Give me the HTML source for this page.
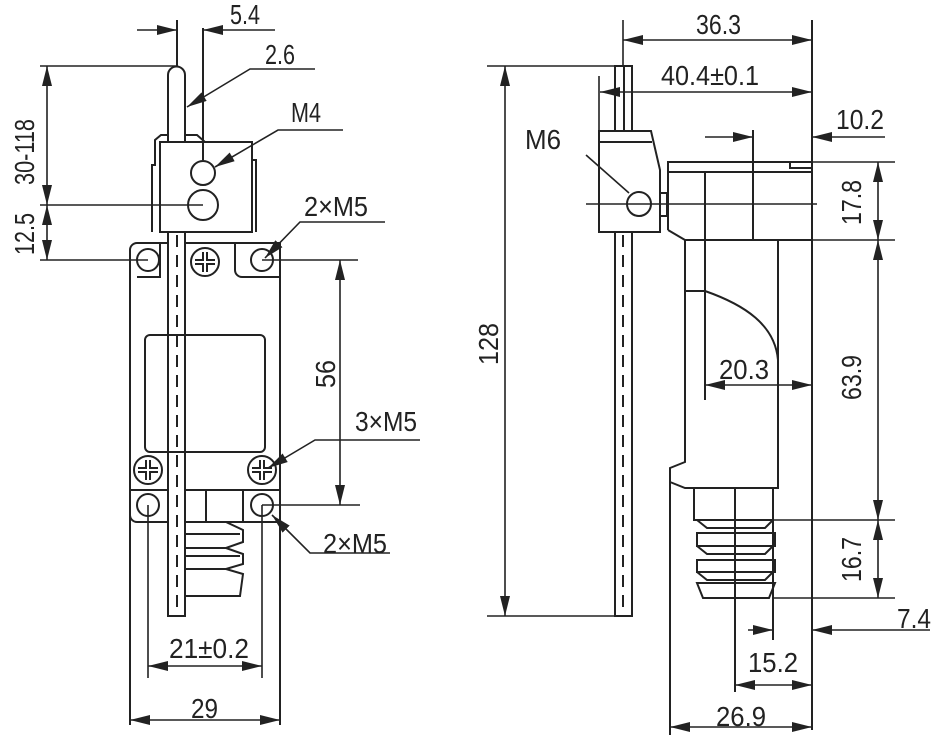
<!DOCTYPE html>
<html><head><meta charset="utf-8"><style>html,body{margin:0;padding:0;background:#fff}svg{display:block}</style></head><body>
<svg width="947" height="746" viewBox="0 0 947 746" xmlns="http://www.w3.org/2000/svg">
<defs>
<marker id="a" viewBox="0 0 20 10" refX="20" refY="5" markerWidth="20" markerHeight="10" markerUnits="userSpaceOnUse" orient="auto-start-reverse"><path d="M0,0L20,5L0,10z" fill="#222"/></marker>
</defs>
<g fill="none" stroke="#222" stroke-width="2">
<!-- LEFT VIEW -->
<path d="M168,616V75a8,8 0 0 1 17,0V616z" fill="#fff"/>
<line x1="177" y1="235" x2="177" y2="614" stroke-dasharray="12,8"/>
<path d="M152,232V165h3V140l6,-5h6M185,135h12l8,7M252,160h4V232"/>
<rect x="160" y="142" width="92" height="90" fill="#fff"/>
<circle cx="203" cy="173" r="12"/><circle cx="203" cy="205" r="15"/>
<line x1="203" y1="28" x2="203" y2="160"/>
<line x1="177" y1="20" x2="177" y2="66"/>
<!-- body -->
<path d="M130,250a7,7 0 0 1 7,-7H168M185,243H235V270a7,7 0 0 0 7,7H280V243H236"/>
<path d="M160,243V277H137M168,243V277"/>
<line x1="130" y1="250" x2="130" y2="725"/><line x1="280" y1="243" x2="280" y2="725"/>
<circle cx="148" cy="260" r="11"/><circle cx="262" cy="260" r="11"/>
<rect x="145" y="335" width="120" height="117" rx="5"/>
<path d="M130,490H168M185,490H280M130,515a7,7 0 0 0 7,7H168M185,522H280M206,490V522M243,490V522"/>
<circle cx="148" cy="505" r="11"/><circle cx="262" cy="505" r="11"/>
<path d="M186,522H226l17,8v12l-17,6H186M226,548l17,6v10l-17,5H186M186,534H240M186,556H240M226,569l17,5-3,22H186"/>
</g>
<g stroke="#222" stroke-width="2" fill="#fff">
<circle cx="205" cy="262" r="14"/><circle cx="148" cy="470" r="14"/><circle cx="262" cy="470" r="14"/>
</g>
<g stroke="#222" stroke-width="6">
<path d="M205,252v20M195,262h20M148,460v20M138,470h20M262,460v20M252,470h20"/>
</g>
<g stroke="#fff" stroke-width="2"><path d="M205,252v20M195,262h20M148,460v20M138,470h20M262,460v20M252,470h20"/></g>
<g fill="none" stroke="#222" stroke-width="1.6">
<line x1="137" y1="30" x2="177" y2="30" marker-end="url(#a)"/>
<line x1="275" y1="30" x2="203" y2="30" marker-end="url(#a)"/>
<path d="M315,69H250L187,107" marker-end="url(#a)"/>
<path d="M343,130H278L215,167" marker-end="url(#a)"/>
<path d="M385,222H300L265,258" marker-end="url(#a)"/>
<path d="M420,440H315L268,468" marker-end="url(#a)"/>
<path d="M390,553H310L272,515" marker-end="url(#a)"/>
<path d="M40,66H176M40,205H203M40,260H148"/>
<line x1="47" y1="135" x2="47" y2="66" marker-end="url(#a)"/>
<line x1="47" y1="135" x2="47" y2="205" marker-end="url(#a)"/>
<line x1="47" y1="232" x2="47" y2="205" marker-end="url(#a)"/>
<line x1="47" y1="232" x2="47" y2="260" marker-end="url(#a)"/>
<path d="M262,260H358M262,505H360M148,505V678M262,505V678"/>
<line x1="340" y1="380" x2="340" y2="260" marker-end="url(#a)"/>
<line x1="340" y1="380" x2="340" y2="505" marker-end="url(#a)"/>
<line x1="205" y1="666" x2="148" y2="666" marker-end="url(#a)"/>
<line x1="205" y1="666" x2="262" y2="666" marker-end="url(#a)"/>
<line x1="205" y1="720" x2="130" y2="720" marker-end="url(#a)"/>
<line x1="205" y1="720" x2="280" y2="720" marker-end="url(#a)"/>
</g>
<g fill="none" stroke="#222" stroke-width="2">
<!-- RIGHT VIEW -->
<path d="M615,616V66H632V616z"/>
<line x1="624" y1="66" x2="624" y2="131"/>
<line x1="623" y1="235" x2="623" y2="614" stroke-dasharray="12,8"/>
<path d="M599,131H651L660,170V232H599z" fill="#fff"/>
<line x1="599" y1="142" x2="652" y2="142"/>
<circle cx="639" cy="204" r="12"/>
<rect x="660" y="193" width="7" height="23"/>
<path d="M668,230V162H812M668,172H812M790,162V168H812M668,230L685,240H812M705,172V400M753,130V240"/>
<path d="M685,240V462L670,468V482L685,488H778V240M685,291H705C745,305 775,325 778,360"/>
<path d="M694,488V520H773V488M697,520h76M697,520l10,8h58l8,-8M697,533H775V546H697zM697,546l10,8h58l8,-8M697,560H775V572H697zM697,572l10,8h58l8,-8M697,583H775l-6,15H703z"/>
<line x1="735" y1="488" x2="735" y2="692"/>
<line x1="773" y1="520" x2="773" y2="640"/>
<line x1="812" y1="20" x2="812" y2="730"/>
<line x1="670" y1="482" x2="670" y2="735"/>
</g>
<g fill="none" stroke="#222" stroke-width="1.6">
<line x1="586" y1="204" x2="817" y2="204"/>
<line x1="623" y1="20" x2="623" y2="66"/>
<line x1="599" y1="76" x2="599" y2="131"/>
<line x1="718" y1="40" x2="623" y2="40" marker-end="url(#a)"/>
<line x1="718" y1="40" x2="812" y2="40" marker-end="url(#a)"/>
<line x1="700" y1="92" x2="600" y2="92" marker-end="url(#a)"/>
<line x1="700" y1="92" x2="812" y2="92" marker-end="url(#a)"/>
<line x1="705" y1="137" x2="753" y2="137" marker-end="url(#a)"/>
<line x1="885" y1="137" x2="812" y2="137" marker-end="url(#a)"/>
<path d="M812,162H895M812,240H895M773,520H895M773,598H895"/>
<line x1="878" y1="200" x2="878" y2="162" marker-end="url(#a)"/>
<line x1="878" y1="200" x2="878" y2="240" marker-end="url(#a)"/>
<line x1="878" y1="380" x2="878" y2="240" marker-end="url(#a)"/>
<line x1="878" y1="380" x2="878" y2="520" marker-end="url(#a)"/>
<line x1="878" y1="560" x2="878" y2="520" marker-end="url(#a)"/>
<line x1="878" y1="560" x2="878" y2="598" marker-end="url(#a)"/>
<line x1="748" y1="630" x2="773" y2="630" marker-end="url(#a)"/>
<line x1="930" y1="630" x2="812" y2="630" marker-end="url(#a)"/>
<line x1="773" y1="685" x2="735" y2="685" marker-end="url(#a)"/>
<line x1="773" y1="685" x2="812" y2="685" marker-end="url(#a)"/>
<line x1="740" y1="727" x2="670" y2="727" marker-end="url(#a)"/>
<line x1="740" y1="727" x2="812" y2="727" marker-end="url(#a)"/>
<line x1="760" y1="385" x2="705" y2="385" marker-end="url(#a)"/>
<line x1="760" y1="385" x2="812" y2="385" marker-end="url(#a)"/>
<path d="M487,66H615M487,616H615"/>
<line x1="505" y1="340" x2="505" y2="66" marker-end="url(#a)"/>
<line x1="505" y1="340" x2="505" y2="616" marker-end="url(#a)"/>
<path d="M586,155L629,193"/>
</g>
<g font-family="Liberation Sans, sans-serif" font-size="28" fill="#222">
<text x="230" y="24" textLength="30" lengthAdjust="spacingAndGlyphs">5.4</text>
<text x="265" y="64" textLength="30" lengthAdjust="spacingAndGlyphs">2.6</text>
<text x="291" y="122" textLength="30" lengthAdjust="spacingAndGlyphs">M4</text>
<text x="304" y="216" textLength="64" lengthAdjust="spacingAndGlyphs">2×M5</text>
<text x="355" y="431" textLength="62" lengthAdjust="spacingAndGlyphs">3×M5</text>
<text x="323" y="553" textLength="64" lengthAdjust="spacingAndGlyphs">2×M5</text>
<text x="169" y="658" textLength="80" lengthAdjust="spacingAndGlyphs">21±0.2</text>
<text x="191" y="718" textLength="27" lengthAdjust="spacingAndGlyphs">29</text>
<text transform="translate(34,185) rotate(-90)" textLength="66" lengthAdjust="spacingAndGlyphs">30-118</text>
<text transform="translate(34,255) rotate(-90)" textLength="42" lengthAdjust="spacingAndGlyphs">12.5</text>
<text transform="translate(335,388) rotate(-90)" textLength="28" lengthAdjust="spacingAndGlyphs">56</text>
<text transform="translate(498,365) rotate(-90)" textLength="42" lengthAdjust="spacingAndGlyphs">128</text>
<text x="525" y="149" textLength="36" lengthAdjust="spacingAndGlyphs">M6</text>
<text x="696" y="34" textLength="45" lengthAdjust="spacingAndGlyphs">36.3</text>
<text x="661" y="85" textLength="98" lengthAdjust="spacingAndGlyphs">40.4±0.1</text>
<text x="836" y="129" textLength="48" lengthAdjust="spacingAndGlyphs">10.2</text>
<text transform="translate(861,225) rotate(-90)" textLength="45" lengthAdjust="spacingAndGlyphs">17.8</text>
<text transform="translate(861,400) rotate(-90)" textLength="45" lengthAdjust="spacingAndGlyphs">63.9</text>
<text transform="translate(861,582) rotate(-90)" textLength="45" lengthAdjust="spacingAndGlyphs">16.7</text>
<text x="719" y="379" textLength="50" lengthAdjust="spacingAndGlyphs">20.3</text>
<text x="897" y="628" textLength="34" lengthAdjust="spacingAndGlyphs">7.4</text>
<text x="748" y="672" textLength="50" lengthAdjust="spacingAndGlyphs">15.2</text>
<text x="716" y="726" textLength="50" lengthAdjust="spacingAndGlyphs">26.9</text>
</g>
</svg>
</body></html>
